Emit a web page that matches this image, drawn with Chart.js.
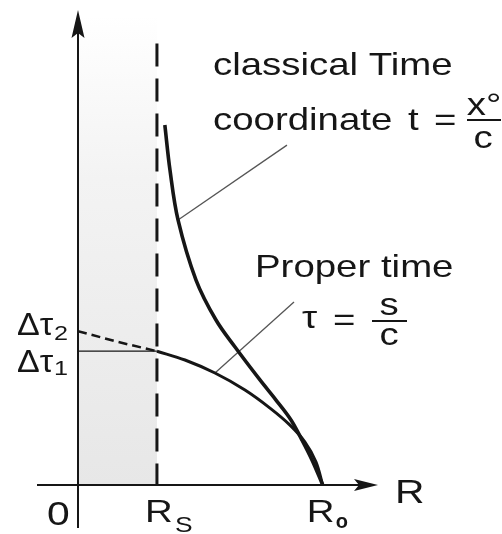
<!DOCTYPE html>
<html>
<head>
<meta charset="utf-8">
<script src="https://cdn.jsdelivr.net/npm/chart.js@4"></script>
<style>
  html, body { margin: 0; padding: 0; background: #fff; }
</style>
</head>
<body>
<canvas id="chart" width="502" height="534"></canvas>
<script>
// R in units of R_S, time in units of Δτ1
const R_S = 1.0;
const R_O = 3.10;
const DTAU1 = 1.0;
const DTAU2 = 1.15;
const R_MAX = 3.8;
const T_MAX = 3.55;
const HORIZON_TOP = 3.30;
const SHADE_TOP = 3.50;

// classical time coordinate t = x°/c
const rClassical = [1.10, 1.165, 1.267, 1.495, 1.748, 1.989, 2.305, 2.508, 2.698, 2.837, 2.964, 3.10];
const tClassical = [2.69, 2.354, 1.981, 1.532, 1.233, 1.031, 0.785, 0.635, 0.486, 0.336, 0.187, 0];

// proper time τ = s/c
const rProper = [1.0, 1.355, 1.735, 2.115, 2.432, 2.685, 2.875, 3.015, 3.10];
const tProper = [1.0, 0.934, 0.837, 0.710, 0.575, 0.448, 0.321, 0.172, 0];

// continuation inside the horizon (dashed)
const rInside = [0, 0.5, 1.0];
const tInside = [DTAU2, 1.07, DTAU1];

// leader lines from the curves to their labels
const rLeadClassical = [1.267, 2.647];
const tLeadClassical = [1.98, 2.54];
const rLeadProper = [1.735, 2.736];
const tLeadProper = [0.837, 1.368];

const INK = '#161616';
const STRETCH = 1.2;
const FONT = '"Liberation Sans", Arial, Helvetica, sans-serif';

const pts = (rs, ts) => rs.map((r, i) => ({ x: r, y: ts[i] }));

function text(ctx, str, px, py, size, opts = {}) {
  ctx.save();
  ctx.font = `${opts.bold ? 'bold ' : ''}${size}px ${FONT}`;
  ctx.fillStyle = INK;
  ctx.textBaseline = 'alphabetic';
  ctx.textAlign = opts.align || 'left';
  ctx.translate(px, py);
  ctx.scale(opts.stretch || STRETCH, 1);
  ctx.fillText(str, 0, 0);
  ctx.restore();
}

function fracBar(ctx, x1, x2, yy) {
  ctx.save();
  ctx.strokeStyle = INK;
  ctx.lineWidth = 2;
  ctx.beginPath();
  ctx.moveTo(x1, yy);
  ctx.lineTo(x2, yy);
  ctx.stroke();
  ctx.restore();
}

const sketch = {
  id: 'sketch',
  afterDraw(chart) {
    const { ctx } = chart;
    const xs = chart.scales.x, ys = chart.scales.y;
    const x0 = xs.getPixelForValue(0);
    const y0 = ys.getPixelForValue(0);
    const xEnd = xs.getPixelForValue(R_MAX);
    const yEnd = ys.getPixelForValue(T_MAX);

    // axes with arrow heads
    ctx.save();
    ctx.strokeStyle = INK;
    ctx.fillStyle = INK;
    ctx.lineWidth = 2;
    ctx.beginPath();
    ctx.moveTo(x0 - 41, y0);
    ctx.lineTo(xEnd - 10, y0);
    ctx.moveTo(x0, y0 + 43);
    ctx.lineTo(x0, yEnd + 12);
    ctx.stroke();
    ctx.beginPath();
    ctx.moveTo(xEnd, y0);
    ctx.lineTo(xEnd - 24, y0 - 6);
    ctx.lineTo(xEnd - 19, y0);
    ctx.lineTo(xEnd - 24, y0 + 6);
    ctx.closePath();
    ctx.fill();
    ctx.beginPath();
    ctx.moveTo(x0, yEnd);
    ctx.lineTo(x0 - 6.5, yEnd + 28);
    ctx.lineTo(x0, yEnd + 23);
    ctx.lineTo(x0 + 6.5, yEnd + 28);
    ctx.closePath();
    ctx.fill();
    ctx.restore();

    // axis labels
    const xRs = xs.getPixelForValue(R_S);
    const xRo = xs.getPixelForValue(R_O);
    text(ctx, '0', x0 - 31, y0 + 40, 34);
    text(ctx, 'R', xRs - 12, y0 + 37, 32);
    text(ctx, 'S', xRs + 18, y0 + 47, 22);
    text(ctx, 'R', xRo - 16, y0 + 37, 32);
    text(ctx, 'o', xRo + 13, y0 + 43, 20, { bold: true, stretch: 1 });
    text(ctx, 'R', xEnd + 17, y0 + 18, 34);

    const yT2 = ys.getPixelForValue(DTAU2);
    const yT1 = ys.getPixelForValue(DTAU1);
    text(ctx, 'Δτ', x0 - 61, yT2 + 4, 31, { stretch: 1.1 });
    text(ctx, '2', x0 - 24, yT2 + 9, 21);
    text(ctx, 'Δτ', x0 - 61, yT1 + 21, 31, { stretch: 1.1 });
    text(ctx, '1', x0 - 24, yT1 + 24, 21);

    // curve captions
    text(ctx, 'classical Time', 213, 75, 32);
    text(ctx, 'coordinate', 213, 130, 32);
    text(ctx, 't', 408, 130, 32);
    text(ctx, '=', 434, 130, 32);
    text(ctx, 'x°', 484, 115, 32, { align: 'center' });
    fracBar(ctx, 467, 501, 120);
    text(ctx, 'c', 483, 148, 32, { align: 'center' });

    text(ctx, 'Proper time', 255, 277, 32);
    text(ctx, 'τ', 302, 328, 32);
    text(ctx, '=', 333, 330, 32);
    text(ctx, 's', 389, 315, 32, { align: 'center' });
    fracBar(ctx, 372, 407, 321);
    text(ctx, 'c', 389, 345, 32, { align: 'center' });
  }
};

const ctx = document.getElementById('chart').getContext('2d');
const shade = ctx.createLinearGradient(0, 15, 0, 485);
shade.addColorStop(0, '#ffffff');
shade.addColorStop(0.35, '#f3f3f3');
shade.addColorStop(1, '#e7e7e7');

const line = (data, width, extra = {}) => Object.assign({
  data,
  showLine: true,
  borderColor: INK,
  borderWidth: width,
  pointRadius: 0,
  fill: false,
  tension: 0.35,
}, extra);

new Chart(ctx, {
  type: 'scatter',
  data: {
    datasets: [
      line(pts(rClassical, tClassical), 3.6, { order: 1 }),
      line(pts(rProper, tProper), 3, { order: 1 }),
      line(pts(rInside, tInside), 2.5, { order: 2, borderDash: [9, 5], tension: 0 }),
      line(pts([0, R_S], [DTAU1, DTAU1]), 1.3, { order: 2, tension: 0 }),
      line(pts([R_S, R_S], [HORIZON_TOP, 0]), 3, { order: 3, borderDash: [23, 12], borderCapStyle: 'butt', tension: 0 }),
      line(pts(rLeadClassical, tLeadClassical), 1.3, { order: 4, borderColor: '#555', tension: 0 }),
      line(pts(rLeadProper, tLeadProper), 1.3, { order: 4, borderColor: '#555', tension: 0 }),
      line(pts([0, R_S], [SHADE_TOP, SHADE_TOP]), 0, {
        order: 10, fill: 'origin', backgroundColor: shade, borderColor: 'rgba(0,0,0,0)', tension: 0,
      }),
    ],
  },
  options: {
    responsive: false,
    animation: false,
    layout: { padding: { left: 78, right: 124, top: 10, bottom: 49 } },
    plugins: { legend: { display: false }, tooltip: { enabled: false } },
    scales: {
      x: { type: 'linear', min: 0, max: R_MAX, display: false },
      y: { type: 'linear', min: 0, max: T_MAX, display: false },
    },
  },
  plugins: [sketch],
});
</script>
</body>
</html>
